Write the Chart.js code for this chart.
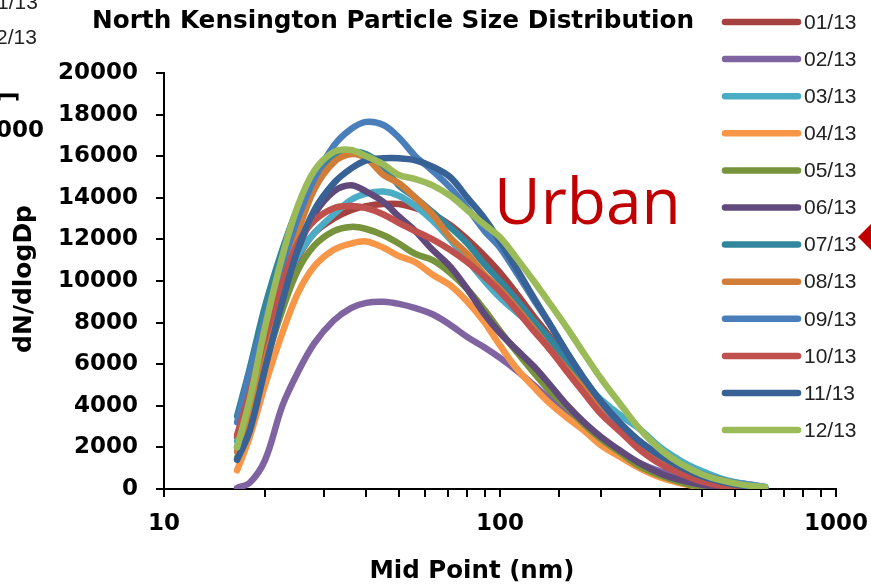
<!DOCTYPE html>
<html>
<head>
<meta charset="utf-8">
<script src="https://cdn.jsdelivr.net/npm/chart.js@4.4.1/dist/chart.umd.min.js"></script>
<style>
  body { margin: 0; background: #fff; }
  canvas { display: block; }
</style>
</head>
<body>
<canvas id="chart" width="871" height="588"></canvas>
<script>
// mid point diameters (nm)
const midPoints = [16.5, 18, 20, 22.5, 25, 28, 32, 36, 40, 45, 50, 56, 63, 71, 80, 90, 100, 112, 126, 141, 159, 178, 200, 230, 260, 300, 350, 400, 460, 530, 615];

const months = ["01/13","02/13","03/13","04/13","05/13","06/13","07/13","08/13","09/13","10/13","11/13","12/13"];
const colores = ["#a5413f","#8064a2","#4bacc6","#f79646","#77933c","#604a7b","#31859c","#d17d37","#4a7ebb","#c0504d","#386295","#9bbb59"];

const s01 = [2500, 4300, 6900, 9300, 11100, 12300, 13000, 13400, 13600, 13700, 13700, 13500, 13200, 12700, 12000, 11200, 10400, 9400, 8300, 7300, 6000, 4900, 3900, 2900, 2100, 1400, 800, 450, 200, 80, 20];
const s02 = [50, 300, 1400, 4000, 5600, 7000, 8100, 8700, 8950, 9000, 8900, 8700, 8400, 7900, 7300, 6800, 6300, 5700, 5000, 4300, 3600, 3000, 2300, 1700, 1250, 850, 700, 500, 380, 260, 100];
const s03 = [2300, 4300, 7000, 9500, 11200, 12300, 13200, 13900, 14200, 14300, 14100, 13600, 12900, 12000, 11000, 10000, 9200, 8500, 7800, 7000, 6000, 5100, 4300, 3500, 2900, 2000, 1300, 850, 480, 250, 100];
const s04 = [900, 2500, 5000, 7500, 9400, 10700, 11500, 11800, 11900, 11600, 11200, 10900, 10300, 9800, 9000, 8000, 6900, 5800, 4900, 4100, 3400, 2800, 2100, 1500, 1000, 550, 250, 80, 20, 0, 0];
const s05 = [1500, 3300, 6000, 8600, 10500, 11700, 12400, 12600, 12500, 12200, 11800, 11300, 11000, 10400, 9600, 8600, 7600, 6600, 5600, 4700, 3900, 3100, 2400, 1700, 1100, 650, 300, 100, 30, 0, 0];
const s06 = [2000, 3800, 6500, 9200, 11500, 13200, 14300, 14600, 14300, 13800, 13100, 12400, 11500, 10700, 9600, 8400, 7500, 6700, 5900, 5000, 4000, 3200, 2500, 1800, 1250, 750, 400, 200, 80, 30, 0];
const s07 = [3500, 5800, 8800, 11500, 13500, 15000, 15900, 16200, 16100, 15500, 14600, 14000, 13300, 12600, 11800, 10800, 10000, 9100, 8100, 7200, 6100, 5100, 4100, 3100, 2300, 1600, 1000, 600, 330, 150, 50];
const s08 = [1800, 3800, 6800, 9800, 12300, 14400, 15700, 16100, 15900, 15100, 14700, 14000, 13200, 12100, 11300, 10300, 9600, 8700, 7700, 6700, 5700, 4800, 3900, 3000, 2200, 1500, 900, 500, 250, 100, 20];
const s09 = [3200, 5600, 8200, 10800, 13000, 14900, 16500, 17300, 17650, 17500, 16900, 16000, 15300, 14500, 13500, 12400, 11600, 10400, 9100, 7900, 6500, 5300, 4200, 3000, 2300, 1600, 1050, 700, 420, 220, 60];
const s10 = [2600, 4600, 7300, 9900, 11800, 12900, 13500, 13600, 13500, 13200, 12800, 12400, 12000, 11500, 10900, 10200, 9500, 8600, 7600, 6700, 5600, 4600, 3600, 2700, 1900, 1200, 700, 350, 150, 50, 0];
const s11 = [1400, 2800, 5800, 9000, 11500, 13400, 14700, 15400, 15800, 15900, 15900, 15800, 15500, 15000, 14000, 13000, 11900, 10600, 9200, 7900, 6500, 5300, 4200, 3100, 2300, 1600, 1000, 600, 330, 150, 40];
const s12 = [2000, 4300, 7800, 11200, 13600, 15300, 16200, 16300, 16000, 15600, 15100, 14900, 14600, 14100, 13400, 12700, 12100, 11100, 10000, 8900, 7700, 6500, 5300, 4000, 2900, 1900, 1150, 700, 400, 200, 80];

const series = [s01, s02, s03, s04, s05, s06, s07, s08, s09, s10, s11, s12];
const xTickLabels = [10, 100, 1000];
const yTickStep = 2000;

const datasets = series.map((s, i) => ({
  label: months[i],
  data: s.map((v, j) => ({ x: midPoints[j], y: v })),
  borderColor: colores[i],
  backgroundColor: colores[i],
  borderWidth: 6.5,
  pointRadius: 0,
  tension: 0.35,
  borderCapStyle: 'round',
  borderJoinStyle: 'round',
  order: -i
}));

// draw text squeezed/stretched to a given width
function fitText(c, txt, x, y, w) {
  const m = c.measureText(txt).width;
  c.save();
  c.translate(x, y);
  c.scale(w / m, 1);
  c.fillText(txt, 0, 0);
  c.restore();
}

const extras = {
  id: 'extras',
  afterDraw(chart) {
    const c = chart.ctx;
    c.save();
    c.fillStyle = '#000';
    c.textBaseline = 'middle';
    c.textAlign = 'center';
    c.font = 'bold 24px "DejaVu Sans"';
    fitText(c, 'North Kensington Particle Size Distribution', 393, 22, 602);
    fitText(c, 'Mid Point (nm)', 472, 572, 205);
    c.save();
    c.translate(25, 279);
    c.rotate(-Math.PI / 2);
    fitText(c, 'dN/dlogDp', 0, 0, 148);
    c.restore();

    // legend
    c.textAlign = 'left';
    c.font = '21px "Liberation Sans"';
    chart.data.datasets.forEach((ds, i) => {
      const y = 22 + i * 37.1;
      c.strokeStyle = ds.borderColor;
      c.lineWidth = 6.5;
      c.lineCap = 'round';
      c.beginPath();
      c.moveTo(725, y);
      c.lineTo(798, y);
      c.stroke();
      c.fillStyle = '#222';
      c.fillText(ds.label, 804, y + 1);
    });

    // Urban
    c.fillStyle = '#c00000';
    c.font = '64px "Open Sans"';
    c.fillText('Urban', 494, 206);
    c.beginPath();
    c.moveTo(858, 237);
    c.lineTo(872, 223);
    c.lineTo(886, 237);
    c.lineTo(872, 251);
    c.closePath();
    c.fill();

    // bits of the neighbour chart, cut off at the left edge
    c.fillStyle = '#222';
    c.font = '21px "Liberation Sans"';
    c.fillText('1/13', -3, 3);
    c.fillText('2/13', -4, 38);
    c.fillStyle = '#000';
    c.font = 'bold 23px "DejaVu Sans"';
    c.fillText('000', -4, 131);
    c.save();
    c.translate(10, 96);
    c.rotate(-Math.PI / 2);
    c.fillText(']', -6, 0);
    c.restore();
    c.restore();
  }
};

const ctx = document.getElementById("chart").getContext("2d");
const config = {
  type: 'line',
  data: { datasets: datasets },
  options: {
    responsive: false,
    animation: false,
    devicePixelRatio: 1,
    layout: { padding: { left: 0, right: 35, top: 73, bottom: 0 } },
    plugins: { legend: { display: false }, title: { display: false }, tooltip: { enabled: false } },
    scales: {
      x: {
        type: 'logarithmic',
        min: 10,
        max: 1000,
        afterFit: (s) => { s.height = 99; s.paddingLeft = 0; s.paddingRight = 0; },
        grid: { drawOnChartArea: false, color: '#000', lineWidth: 2, tickLength: 8 },
        border: { color: '#000', width: 2 },
        ticks: {
          autoSkip: false,
          maxRotation: 0,
          padding: 13,
          color: '#000',
          font: { family: 'DejaVu Sans', size: 23, weight: 'bold' },
          callback: (v) => xTickLabels.includes(v) ? String(v) : ''
        }
      },
      y: {
        min: 0,
        max: 20000,
        afterFit: (s) => { s.width = 164; s.paddingTop = 0; s.paddingBottom = 0; },
        grid: { drawOnChartArea: false, color: '#000', lineWidth: 2, tickLength: 8 },
        border: { color: '#000', width: 2 },
        ticks: {
          stepSize: yTickStep,
          padding: 18,
          color: '#000',
          font: { family: 'DejaVu Sans', size: 23, weight: 'bold' },
          callback: (v) => String(v)
        }
      }
    }
  },
  plugins: [extras]
};

const chart = new Chart(ctx, config);
</script>
</body>
</html>
